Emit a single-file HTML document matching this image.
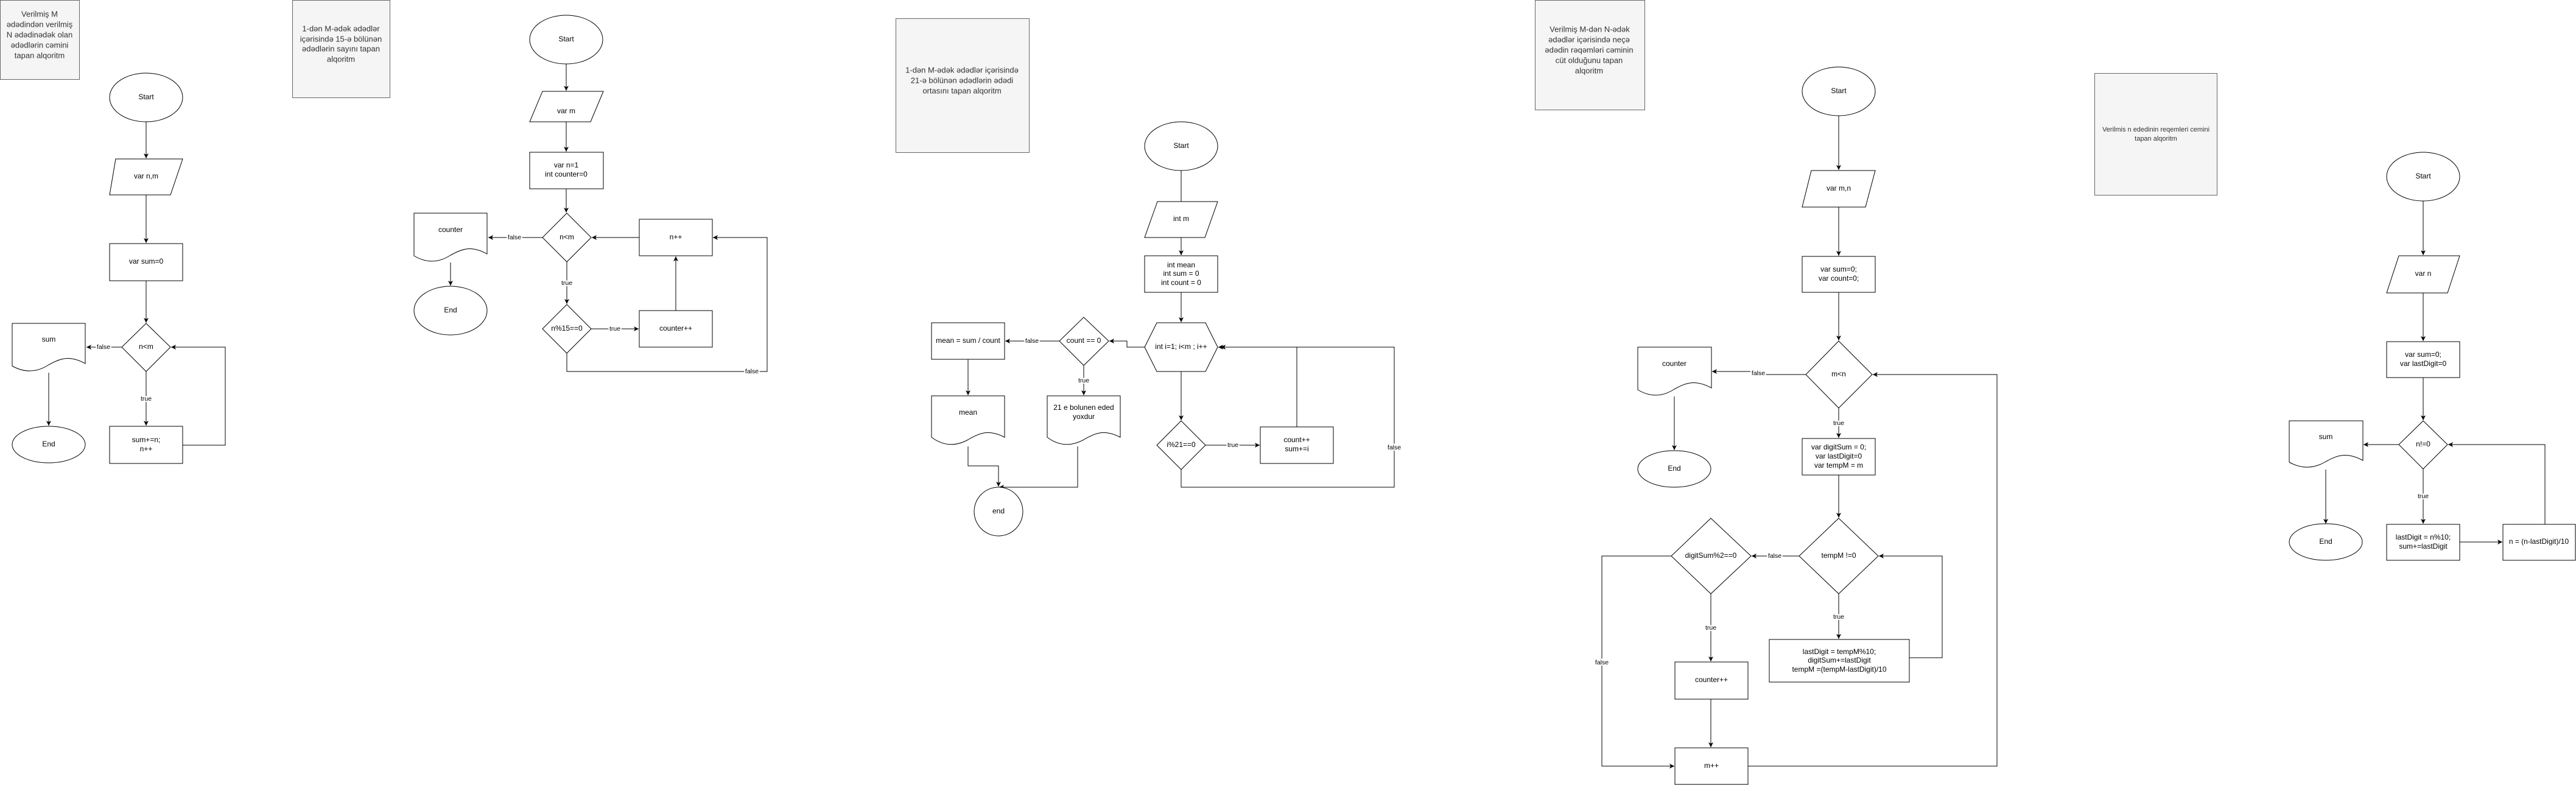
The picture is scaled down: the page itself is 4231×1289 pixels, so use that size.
<!DOCTYPE html>
<html><head><meta charset="utf-8"><style>
html,body{margin:0;padding:0;background:#fff;overflow:hidden;}
svg{display:block;}
text{font-family:"Liberation Sans",sans-serif;font-size:12px;fill:#000;text-anchor:middle;dominant-baseline:middle;}
.t{font-size:13px;fill:#333;}
.s{font-size:11px;fill:#333;}
.l{font-size:10.5px;paint-order:stroke;stroke:#fff;stroke-width:4px;}
.n{fill:#fff;stroke:#000;stroke-width:1;}
.b{fill:#f5f5f5;stroke:#666;stroke-width:1;}
.c{fill:none;stroke:#000;stroke-width:1;}
.a{fill:none;stroke:#000;stroke-width:1;marker-end:url(#ar);}
</style></head><body>
<svg width="4231" height="1289" viewBox="0 0 4231 1289" xmlns="http://www.w3.org/2000/svg">
<defs><marker id="ar" markerWidth="10" markerHeight="10" refX="8" refY="4" orient="auto" markerUnits="userSpaceOnUse"><path d="M0,0 L8,4 L0,8 L2,4 Z" fill="#000"/></marker></defs>

<!-- Flow 1 -->
<rect class="b" x="0.5" y="0.5" width="130" height="130"/>
<text class="t" x="65" y="24">Verilmiş M</text>
<text class="t" x="65" y="41">ədədindən verilmiş</text>
<text class="t" x="65" y="58">N ədədinədək olan</text>
<text class="t" x="65" y="75">ədədlərin cəmini</text>
<text class="t" x="65" y="92">tapan alqoritm</text>

<rect class="b" x="480.5" y="0.5" width="160" height="160"/>
<text class="t" x="560" y="48">1-dən M-ədək ədədlər</text>
<text class="t" x="560" y="65">içərisində 15-ə bölünən</text>
<text class="t" x="560" y="81">ədədlərin sayını tapan</text>
<text class="t" x="560" y="98">alqoritm</text>

<ellipse class="n" cx="240" cy="160" rx="60" ry="40"/><text x="240" y="160">Start</text>
<path class="a" d="M240,200 V260"/>
<polygon class="n" points="190,261 300,261 280,320 180,320"/><text x="240" y="290">var n,m</text>
<path class="a" d="M240,320 V399"/>
<rect class="n" x="180" y="400" width="120" height="61"/><text x="240" y="430">var sum=0</text>
<path class="a" d="M240,461 V530"/>
<polygon class="n" points="240,531 280,570 240,610 200,570"/><text x="240" y="570">n&lt;m</text>
<path class="a" d="M200,570 H142"/><text class="l" x="170" y="570">false</text>
<path class="a" d="M240,610 V699"/><text class="l" x="240" y="655">true</text>
<rect class="n" x="180" y="700" width="120" height="61"/><text x="240" y="723">sum+=n;</text><text x="240" y="738">n++</text>
<path class="a" d="M300,731 H370 V570 H281"/>
<path class="n" d="M20,531 H140 V597 C115,583 100,588 80,599 C60,612 40,612 20,601 Z"/><text x="80" y="558">sum</text>
<path class="a" d="M80,612 V699"/>
<ellipse class="n" cx="80" cy="730" rx="60" ry="30"/><text x="80" y="730">End</text>

<!-- Flow 2 -->
<ellipse class="n" cx="930" cy="65" rx="60" ry="40"/><text x="930" y="65">Start</text>
<path class="a" d="M930,105 V149"/>
<polygon class="n" points="891,150 991,150 970,200 870,200"/><text x="930" y="183">var m</text>
<path class="a" d="M930,200 V249"/>
<rect class="n" x="870" y="250" width="121" height="60"/><text x="930" y="272">var n=1</text><text x="930" y="287">int counter=0</text>
<path class="a" d="M930,310 V349"/>
<polygon class="n" points="931,350 971,390 931,430 891,390"/><text x="931" y="390">n&lt;m</text>
<path class="a" d="M891,390 H802"/><text class="l" x="845" y="390">false</text>
<path class="n" d="M680,350 H800 V417 C775,403 760,408 740,419 C720,432 700,432 680,420 Z"/><text x="740" y="378">counter</text>
<path class="a" d="M740,431 V469"/>
<ellipse class="n" cx="740" cy="510" rx="60" ry="40"/><text x="740" y="510">End</text>
<path class="a" d="M931,430 V499"/><text class="l" x="931" y="465">true</text>
<polygon class="n" points="931,500 971,540 931,580 891,540"/><text x="931" y="540">n%15==0</text>
<path class="a" d="M971,540 H1049"/><text class="l" x="1010" y="540">true</text>
<rect class="n" x="1050" y="510" width="120" height="60"/><text x="1110" y="540">counter++</text>
<path class="a" d="M1110,510 V421"/>
<rect class="n" x="1050" y="360" width="120" height="60"/><text x="1110" y="390">n++</text>
<path class="a" d="M1050,390 H972"/>
<path class="a" d="M931,580 V610 H1260 V390 H1171"/><text class="l" x="1235" y="610">false</text>

<!-- Flow 3 -->
<rect class="b" x="1471.5" y="30.5" width="219" height="220"/>
<text class="t" x="1580" y="116">1-dən M-ədək ədədlər içərisində</text>
<text class="t" x="1580" y="133">21-ə bölünən ədədlərin ədədi</text>
<text class="t" x="1580" y="150">ortasını tapan alqoritm</text>

<ellipse class="n" cx="1940" cy="240" rx="60" ry="40"/><text x="1940" y="240">Start</text>
<path class="c" d="M1940,280 V331"/>
<polygon class="n" points="1901,331 2000,331 1979,390 1880,390"/><text x="1940" y="360">int m</text>
<path class="a" d="M1940,390 V419"/>
<rect class="n" x="1880" y="420" width="120" height="60"/><text x="1940" y="436">int mean</text><text x="1940" y="450">int sum = 0</text><text x="1940" y="465">int count = 0</text>
<path class="a" d="M1940,480 V529"/>
<polygon class="n" points="1880,570 1900,530 1980,530 2000,570 1980,610 1900,610"/><text x="1940" y="570">int i=1; i&lt;m ; i++</text>
<path class="a" d="M1880,570 H1851 V560 H1822"/>
<polygon class="n" points="1780,521 1821,560 1780,600 1740,560"/><text x="1780" y="560">count == 0</text>
<path class="a" d="M1740,560 H1651"/><text class="l" x="1695" y="560">false</text>
<rect class="n" x="1530" y="530" width="120" height="60"/><text x="1590" y="560">mean = sum / count</text>
<path class="a" d="M1590,590 V649"/>
<path class="n" d="M1530,650 H1650 V718 C1625,705 1610,710 1590,722 C1570,733 1550,733 1530,718 Z"/><text x="1590" y="678">mean</text>
<path class="a" d="M1780,600 V649"/><text class="l" x="1780" y="625">true</text>
<path class="n" d="M1720,650 H1840 V718 C1815,705 1800,710 1780,722 C1760,733 1740,733 1720,718 Z"/><text x="1780" y="670">21 e bolunen eded</text><text x="1780" y="685">yoxdur</text>
<path class="a" d="M1590,733 V765 H1640 V799"/>
<path class="a" d="M1770,733 V800 H1641"/>
<circle class="n" cx="1640" cy="840" r="40"/><text x="1640" y="840">end</text>
<path class="a" d="M1940,610 V690"/>
<polygon class="n" points="1940,691 1980,731 1940,771 1900,731"/><text x="1940" y="731">i%21==0</text>
<path class="a" d="M1980,731 H2069"/><text class="l" x="2025" y="731">true</text>
<rect class="n" x="2070" y="701" width="120" height="60"/><text x="2130" y="723">count++</text><text x="2130" y="738">sum+=i</text>
<path class="a" d="M2130,701 V570 H2001"/>
<path class="a" d="M1940,771 V800 H2290 V570 H2005"/><text class="l" x="2290" y="735">false</text>

<!-- Flow 4 -->
<rect class="b" x="2521.5" y="0.5" width="180" height="180"/>
<text class="t" x="2611" y="49">Verilmiş M-dən N-ədək</text>
<text class="t" x="2610" y="66">ədədlər içərisində neçə</text>
<text class="t" x="2610" y="83">ədədin rəqəmləri cəminin</text>
<text class="t" x="2610" y="100">cüt olduğunu tapan</text>
<text class="t" x="2610" y="117">alqoritm</text>

<ellipse class="n" cx="3020" cy="150" rx="60" ry="40"/><text x="3020" y="150">Start</text>
<path class="a" d="M3020,190 V279"/>
<polygon class="n" points="2975,280 3080,280 3064,340 2960,340"/><text x="3020" y="310">var m,n</text>
<path class="a" d="M3020,340 V420"/>
<rect class="n" x="2960" y="421" width="120" height="59"/><text x="3020" y="443">var sum=0;</text><text x="3020" y="458">var count=0;</text>
<path class="a" d="M3020,480 V559"/>
<polygon class="n" points="3020,560 3075,615 3020,670 2966,615"/><text x="3020" y="615">m&lt;n</text>
<path class="a" d="M2966,615 H2888 V610 H2812"/><text class="l" x="2888" y="613">false</text>
<path class="n" d="M2690,570 H2811 V637 C2785,623 2770,628 2750,639 C2730,652 2710,652 2690,640 Z"/><text x="2750" y="598">counter</text>
<path class="a" d="M2750,651 V739"/>
<ellipse class="n" cx="2750" cy="770" rx="60" ry="30"/><text x="2750" y="770">End</text>
<path class="a" d="M3020,670 V719"/><text class="l" x="3020" y="695">true</text>
<rect class="n" x="2960" y="720" width="120" height="60"/><text x="3020" y="735">var digitSum = 0;</text><text x="3020" y="750">var lastDigit=0</text><text x="3020" y="765">var tempM = m</text>
<path class="a" d="M3020,780 V850"/>
<polygon class="n" points="3020,851 3085,913 3020,975 2955,913"/><text x="3020" y="913">tempM !=0</text>
<path class="a" d="M2955,913 H2877"/><text class="l" x="2915" y="913">false</text>
<polygon class="n" points="2810,851 2876,913 2810,975 2745,913"/><text x="2810" y="913">digitSum%2==0</text>
<path class="a" d="M3020,975 V1049"/><text class="l" x="3020" y="1013">true</text>
<rect class="n" x="2906" y="1050" width="230" height="70"/><text x="3021" y="1071">lastDigit = tempM%10;</text><text x="3021" y="1085">digitSum+=lastDigit</text><text x="3021" y="1100">tempM =(tempM-lastDigit)/10</text>
<path class="a" d="M3136,1080 H3190 V913 H3086"/>
<path class="a" d="M2810,975 V1086"/><text class="l" x="2810" y="1031">true</text>
<rect class="n" x="2751" y="1087" width="120" height="61"/><text x="2811" y="1117">counter++</text>
<path class="a" d="M2810,1148 V1227"/>
<rect class="n" x="2751" y="1228" width="120" height="60"/><text x="2811" y="1258">m++</text>
<path class="a" d="M2745,913 H2631 V1258 H2750"/><text class="l" x="2631" y="1088">false</text>
<path class="a" d="M2871,1258 H3280 V615 H3076"/>

<!-- Flow 5 -->
<rect class="b" x="3440.5" y="120.5" width="201" height="200"/>
<text class="s" x="3541" y="213">Verilmis n ededinin reqemleri cemini</text>
<text class="s" x="3541" y="228">tapan alqoritm</text>

<ellipse class="n" cx="3980" cy="290" rx="60" ry="40"/><text x="3980" y="290">Start</text>
<path class="a" d="M3980,330 V419"/>
<polygon class="n" points="3940,420 4040,420 4020,481 3920,481"/><text x="3980" y="450">var n</text>
<path class="a" d="M3980,481 V560"/>
<rect class="n" x="3920" y="561" width="120" height="59"/><text x="3980" y="583">var sum=0;</text><text x="3980" y="598">var lastDigit=0</text>
<path class="a" d="M3980,620 V690"/>
<polygon class="n" points="3980,691 4020,730 3980,770 3940,730"/><text x="3980" y="730">n!=0</text>
<path class="a" d="M3940,730 H3882"/>
<path class="n" d="M3760,691 H3881 V756 C3855,742 3840,747 3820,758 C3800,770 3780,770 3760,759 Z"/><text x="3820" y="718">sum</text>
<path class="a" d="M3820,771 V860"/>
<ellipse class="n" cx="3820" cy="890" rx="60" ry="30"/><text x="3820" y="890">End</text>
<path class="a" d="M3980,770 V860"/><text class="l" x="3980" y="815">true</text>
<rect class="n" x="3920" y="861" width="120" height="59"/><text x="3980" y="883">lastDigit = n%10;</text><text x="3980" y="898">sum+=lastDigit</text>
<path class="a" d="M4040,890 H4110"/>
<rect class="n" x="4111" y="861" width="119" height="59"/><text x="4170" y="890">n = (n-lastDigit)/10</text>
<path class="a" d="M4180,861 V730 H4021"/>
</svg>
</body></html>
